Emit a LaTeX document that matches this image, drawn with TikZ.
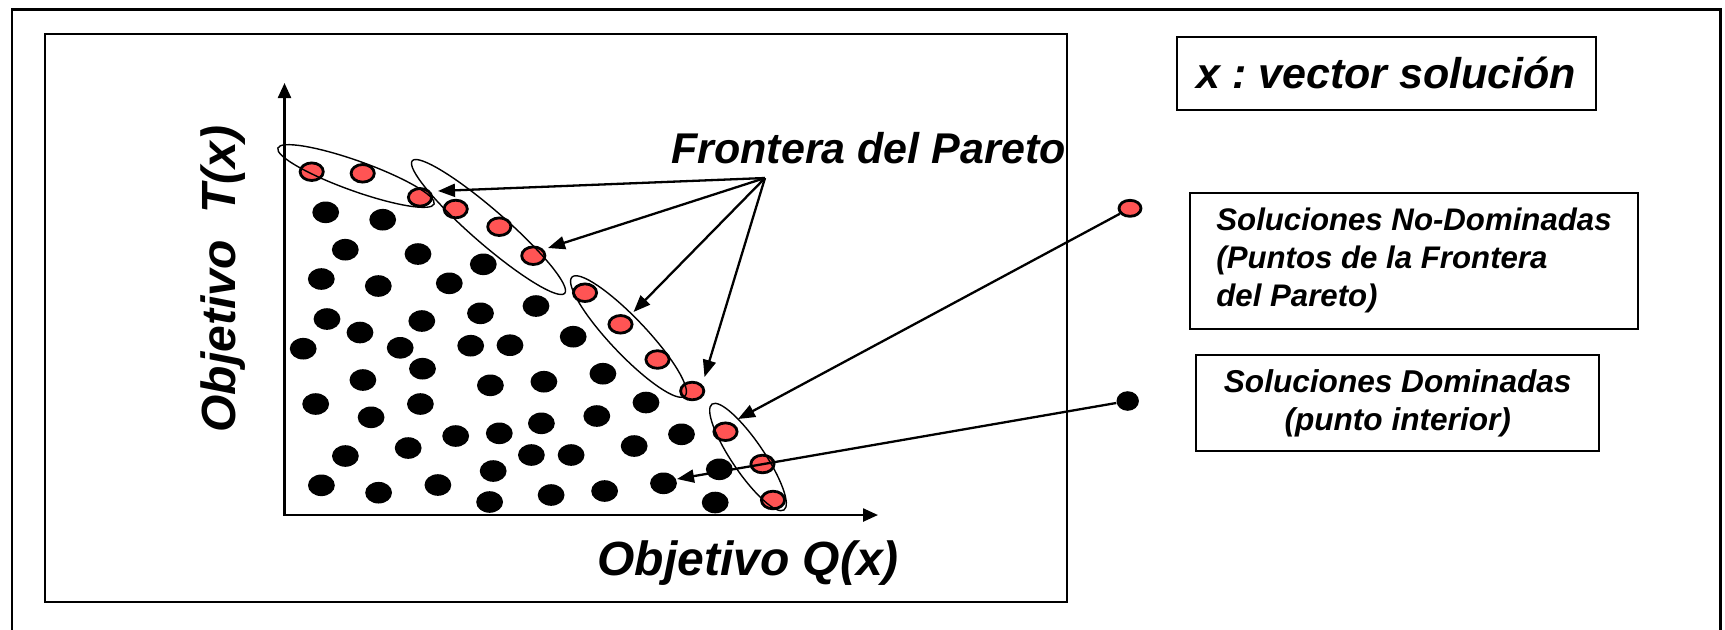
\documentclass[tikz,border=0pt]{standalone}
\usepackage{fontspec}
\setmainfont{Liberation Sans}
\usetikzlibrary{arrows.meta,shapes.geometric}
\definecolor{ptred}{HTML}{FF5454}
\frenchspacing
\begin{document}
\begin{tikzpicture}[x=0.5pt,y=-0.5pt,
  bdot/.style={ellipse,fill=black,inner sep=0pt,minimum width=13.4pt,minimum height=10.8pt},
  rdot/.style={ellipse,draw=black,line width=1.4pt,fill=ptred,inner sep=0pt,minimum width=11.6pt,minimum height=8.8pt},
  grp/.style={ellipse,draw=black,line width=0.7pt,inner sep=0pt},
  arr/.style={line width=1.15pt,-{Triangle[length=8.5pt,width=6.5pt]}},
  axisline/.style={line width=1.2pt,line join=miter,{Triangle[length=7.5pt,width=6.5pt]}-{Triangle[length=7.5pt,width=6.5pt]}},
  boxnode/.style={draw=black,line width=1pt,inner sep=0pt,font=\bfseries\itshape\fontsize{15.6}{19}\selectfont},
  lbl/.style={inner sep=0pt,font=\bfseries\itshape\fontsize{21.5}{26}\selectfont},
  biglbl/.style={inner sep=0pt,font=\bfseries\itshape\fontsize{24}{29}\selectfont},
]
\useasboundingbox (0,0) rectangle (1725,629);
\clip (0,0) rectangle (1725,629);
\fill[white] (0,0) rectangle (1725,629);
% frames
\draw[line width=1.3pt] (12,680) -- (12,9.5) -- (1720.5,9.5) -- (1720.5,680);
\draw[line width=1pt] (44.5,34) rectangle (1067,601.5);

% axes
\coordinate (O) at (284.5,515);
\coordinate (ytip) at (284.5,83);
\coordinate (xtip) at (878,515);
\draw[axisline] (ytip) -- (O) -- (xtip);

% axis labels
\node[biglbl,anchor=base west] (qlab) at (597,575) {Objetivo Q(x)};
\node[biglbl,anchor=base west,rotate=90] (tlab) at (235,433) {Objetivo\ \ T(x)};

% dominated points
\foreach \px/\py [count=\i] in {
 325.7/212.3,382.7/219.7,345.3/249.7,418/254,483.3/264.3,321.3/279,378.3/286,449.3/283.3,
 536/306,327/319,360/332.5,421.8/321,480.5/313.3,303.2/348.7,400.2/347.8,470.7/345.7,
 510/345.2,573.2/336.7,362.9/380,422.5/368.7,490.4/385.3,543.9/381.7,602.9/373.7,
 315.7/404,371.1/417.3,420.4/404,646/402.5,596.8/416,541.4/423.3,499.3/433.3,455.7/436,
 408.2/448,345.4/456,681.5/434.3,634.2/446,571.1/455,531.4/455,493.2/471,719.3/469.3,
 321.4/485.3,378.6/492.7,437.9/485,489.6/502,551.1/495,604.6/491,663.5/483.3,715.2/502.5}
  \node[bdot] (b\i) at (\px,\py) {};

% Pareto points
\foreach \px/\py [count=\i] in {
 311.7/171.7,362.7/173.3,420/197.3,455.7/209,499.3/226.7,533.3/255.7,585/292.7,
 620.5/324.3,657.5/359.5,692.2/391,725.5/431.7,762.5/464,773/500}
  \node[rdot] (r\i) at (\px,\py) {};

% groupings
\node[grp,rotate=-19.7,minimum width=83pt,minimum height=15pt] (g1) at (356,176) {};
\node[grp,rotate=-41,minimum width=101pt,minimum height=17pt] (g2) at (488.5,227) {};
\node[grp,rotate=-46.5,minimum width=82pt,minimum height=18pt] (g3) at (628.5,336.5) {};
\node[grp,rotate=-55.8,minimum width=64pt,minimum height=16pt] (g4) at (748,457) {};

% Frontera label and arrows
\node[lbl,anchor=base west] (fp) at (671,163.3) {Frontera del Pareto};
\coordinate (fsrc) at (765,178);
\coordinate (ft1) at (438,191);
\coordinate (ft2) at (548,248);
\coordinate (ft3) at (633.5,312);
\coordinate (ft4) at (704.5,377);
\foreach \t in {ft1,ft2,ft3,ft4} \draw[arr] (fsrc) -- (\t);

% boxes
\node[boxnode,font=\bfseries\itshape\fontsize{21.5}{26}\selectfont,minimum width=209.25pt,minimum height=36.65pt] (bx) at (1386.25,73.35) {x : vector solución};
\node[boxnode,align=left,minimum width=223.7pt,minimum height=68.15pt] (bnd) at (1414,260.85) {Soluciones No-Dominadas\\(Puntos de la Frontera\\del Pareto)};
\node[boxnode,align=center,font=\bfseries\itshape\fontsize{15.8}{18.85}\selectfont,minimum width=201.5pt,minimum height=48pt] (bd) at (1397.7,403) {Soluciones Dominadas\\(punto interior)};

% legend points and arrows
\node[ellipse,draw=black,line width=1.4pt,fill=ptred,inner sep=0pt,minimum width=11pt,minimum height=8pt] (lr) at (1130,208.3) {};
\node[ellipse,fill=black,inner sep=0pt,minimum width=11.2pt,minimum height=9.8pt] (lb) at (1127.7,401) {};
\coordinate (nt) at (738,419);
\coordinate (dt) at (677,479);
\draw[arr] (lr) -- (nt);
\draw[arr] (lb) -- (dt);
\end{tikzpicture}
\end{document}
